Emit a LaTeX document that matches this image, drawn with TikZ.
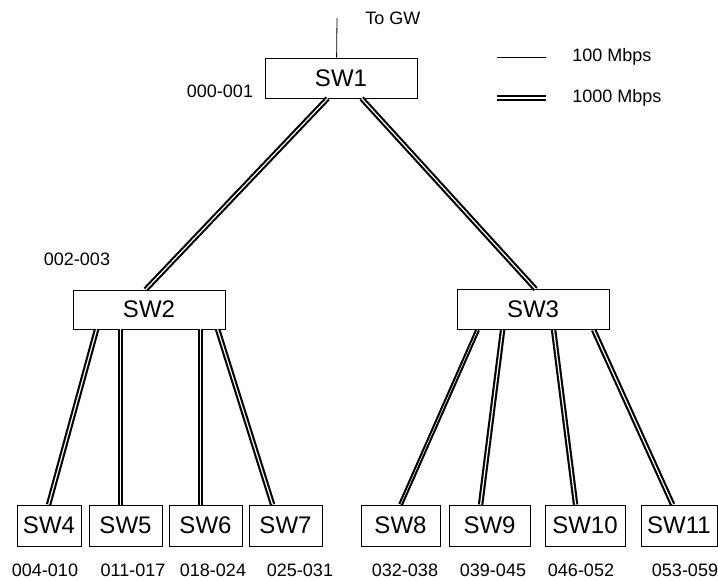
\documentclass[tikz,border=0pt]{standalone}
\usepackage{fontspec}
\setmainfont{Liberation Sans}
\usetikzlibrary{calc}
\tikzset{
  swbox/.style={draw, line width=0.6pt, inner sep=0pt, font=\fontsize{18}{21}\selectfont},
  lbl/.style={inner sep=0pt, font=\fontsize{13.5}{16}\selectfont},
  thinlink/.style={line width=0.6pt},
  fatlink/.style={double, line width=1.6pt, double distance=0.9pt},
}
\begin{document}
\begin{tikzpicture}[x=0.75pt,y=-0.75pt]
\useasboundingbox (0,0) rectangle (718,581);
% switches
\node[swbox, minimum width=152*0.75pt, minimum height=40*0.75pt] (sw1) at (341,78) {SW1};
\node[swbox, minimum width=152*0.75pt, minimum height=39*0.75pt] (sw2) at (149,309.5) {SW2};
\node[swbox, minimum width=152*0.75pt, minimum height=40*0.75pt] (sw3) at (533,309.5) {SW3};
\node[swbox, minimum width=64*0.75pt, minimum height=41*0.75pt] (sw4) at (49,525.5) {SW4};
\node[swbox, minimum width=73*0.75pt, minimum height=41*0.75pt] (sw5) at (125.5,525.5) {SW5};
\node[swbox, minimum width=73*0.75pt, minimum height=41*0.75pt] (sw6) at (205.5,525.5) {SW6};
\node[swbox, minimum width=73*0.75pt, minimum height=41*0.75pt] (sw7) at (285.5,525.5) {SW7};
\node[swbox, minimum width=79*0.75pt, minimum height=41*0.75pt] (sw8) at (400.5,525.5) {SW8};
\node[swbox, minimum width=81*0.75pt, minimum height=41*0.75pt] (sw9) at (489.5,525.5) {SW9};
\node[swbox, minimum width=80*0.75pt, minimum height=41*0.75pt] (sw10) at (585,525.5) {SW10};
\node[swbox, minimum width=76*0.75pt, minimum height=41*0.75pt] (sw11) at (679,525.5) {SW11};
% uplink
\coordinate (gw) at (337,18);
\draw[thinlink] (gw) -- ($(sw1.north west)+(72,0)$);
\node[lbl, anchor=west] (gwl) at (365,18) {To GW};
% labels
\node[lbl] (l1) at (220,91) {000-001};
\node[lbl] (l2) at (77,259) {002-003};
\node[lbl] (l4) at (45,570) {004-010};
\node[lbl] (l5) at (133,570) {011-017};
\node[lbl] (l6) at (213,570) {018-024};
\node[lbl] (l7) at (300,570) {025-031};
\node[lbl] (l8) at (405,570) {032-038};
\node[lbl] (l9) at (493,570) {039-045};
\node[lbl] (l10) at (581,570) {046-052};
\node[lbl] (l11) at (685,570) {053-059};
% legend
\coordinate (la1) at (497,57); \coordinate (la2) at (546,57);
\coordinate (lb1) at (497,98); \coordinate (lb2) at (546,98);
\draw[thinlink] (la1) -- (la2);
\draw[fatlink] (lb1) -- (lb2);
\node[lbl, anchor=west] (lg1) at (572,57) {100 Mbps};
\node[lbl, anchor=west] (lg2) at (572,98) {1000 Mbps};
% links
\draw[fatlink] ($(sw1.south west)+(63,0)$) -- ($(sw2.north west)+(73,0)$);
\draw[fatlink] ($(sw1.south west)+(97,0)$) -- ($(sw3.north west)+(79,0)$);
\draw[fatlink] ($(sw2.south west)+(24,0)$) -- ($(sw4.north west)+(32,0)$);
\draw[fatlink] ($(sw2.south west)+(48,0)$) -- ($(sw5.north west)+(32,0)$);
\draw[fatlink] ($(sw2.south west)+(128,0)$) -- ($(sw6.north west)+(32,0)$);
\draw[fatlink] ($(sw2.south west)+(145,0)$) -- ($(sw7.north west)+(24,0)$);
\draw[fatlink, double distance=0.4pt] ($(sw3.south west)+(21,0)$) -- ($(sw8.north west)+(40,0)$);
\draw[fatlink] ($(sw3.south west)+(46,0)$) -- ($(sw9.north west)+(32,0)$);
\draw[fatlink] ($(sw3.south west)+(97,0)$) -- ($(sw10.north west)+(31,0)$);
\draw[fatlink] ($(sw3.south west)+(137,0)$) -- ($(sw11.north west)+(32,0)$);
\end{tikzpicture}
\end{document}
